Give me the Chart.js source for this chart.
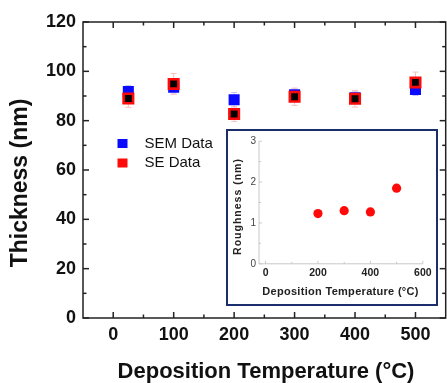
<!DOCTYPE html>
<html><head><meta charset="utf-8">
<script src="https://cdn.jsdelivr.net/npm/chart.js@4/dist/chart.umd.min.js"></script>
<style>
html,body{margin:0;padding:0;overflow:hidden;background:#fff;width:447px;height:383px}
#main{position:absolute;left:0;top:0}
#insetBox{position:absolute;left:226px;top:129px;width:212px;height:177px;box-sizing:border-box;border:2.5px solid #1b2e6c;background:#fff}
#inset{position:absolute;left:0;top:0}
</style></head><body>
<canvas id="main" width="455" height="383"></canvas>
<div id="insetBox"><canvas id="inset" width="207" height="172"></canvas></div>
<script>
// ---- data ----
const temps = [25, 100, 200, 300, 400, 500];
const semThickness = [91.8, 93.6, 88.5, 90.5, 89.3, 92.6];
const seThickness = [89.0, 94.9, 82.7, 89.7, 88.9, 95.5];
const semErr = [2.4, 2.4, 2.9, 2.4, 2.4, 2.4];
const seErr = [3.6, 4.2, 3.0, 3.5, 3.4, 4.2];
const roughTemps = [200, 300, 400, 500];
const roughness = [1.23, 1.30, 1.27, 1.85];
const tempTicks = [0, 100, 200, 300, 400, 500];
const tempMinorTicks = [50, 150, 250, 350, 450];
const thickTicks = [0, 20, 40, 60, 80, 100, 120];
const thickMinorTicks = [10, 30, 50, 70, 90, 110];
const insetTempTicks = [0, 200, 400, 600];
const insetTempMinor = [100, 300, 500];
const roughTicks = [0, 1, 2, 3];
const roughMinor = [0.5, 1.5, 2.5];
const seriesNames = ['SEM Data', 'SE Data'];
const mainXTitle = 'Deposition Temperature (°C)';
const mainYTitle = 'Thickness (nm)';
const insetXTitle = 'Deposition Temperature (°C)';
const insetYTitle = 'Roughness (nm)';

const FONT = '"Liberation Sans", Arial, sans-serif';
Chart.defaults.font.family = FONT;
Chart.defaults.devicePixelRatio = 1;

function line(ctx, x1, y1, x2, y2) { ctx.beginPath(); ctx.moveTo(x1, y1); ctx.lineTo(x2, y2); ctx.stroke(); }

const mainPlugin = {
  id: 'mainPlugin',
  beforeDatasetsDraw(chart) {
    const { ctx, scales: { x, y } } = chart;
    ctx.save();
    ctx.lineWidth = 1;
    const drawErr = (vals, errs, color) => {
      ctx.strokeStyle = color;
      temps.forEach((t, i) => {
        const px = x.getPixelForValue(t);
        const top = y.getPixelForValue(vals[i] + errs[i]);
        const bot = y.getPixelForValue(vals[i] - errs[i]);
        line(ctx, px, top, px, bot);
        line(ctx, px - 3, top, px + 3, top);
        line(ctx, px - 3, bot, px + 3, bot);
      });
    };
    drawErr(semThickness, semErr, '#c4c4f6');
    drawErr(seThickness, seErr, '#f6c0c0');
    ctx.restore();
  },
  afterDraw(chart) {
    const { ctx, chartArea: a, scales: { x, y } } = chart;
    ctx.save();
    ctx.strokeStyle = '#222';
    ctx.lineWidth = 1.5;
    ctx.strokeRect(a.left, a.top, a.right - a.left, a.bottom - a.top);
    tempTicks.forEach(v => { const p = x.getPixelForValue(v); line(ctx, p, a.bottom, p, a.bottom - 6); line(ctx, p, a.top, p, a.top + 6); });
    tempMinorTicks.forEach(v => { const p = x.getPixelForValue(v); line(ctx, p, a.bottom, p, a.bottom - 3.5); line(ctx, p, a.top, p, a.top + 3.5); });
    thickTicks.forEach(v => { const p = y.getPixelForValue(v); line(ctx, a.left, p, a.left + 6, p); line(ctx, a.right, p, a.right - 6, p); });
    thickMinorTicks.forEach(v => { const p = y.getPixelForValue(v); line(ctx, a.left, p, a.left + 3.5, p); line(ctx, a.right, p, a.right - 3.5, p); });
    // legend
    const ds = chart.data.datasets;
    const legColors = [ds[0].backgroundColor, ds[1].borderColor];
    const legY = [143.5, 163];
    ctx.font = '15px ' + FONT;
    ctx.textBaseline = 'middle';
    ctx.fillStyle = '#111';
    legColors.forEach((c, i) => {
      ctx.fillStyle = c;
      ctx.fillRect(117.5, legY[i] - 4.5, 10, 9);
      ctx.fillStyle = '#111';
      ctx.fillText(seriesNames[i], 144.5, legY[i]);
    });
    // titles
    ctx.fillStyle = '#111';
    ctx.font = 'bold 22px ' + FONT;
    ctx.textAlign = 'center';
    ctx.textBaseline = 'middle';
    ctx.fillText(mainXTitle, 266, 372);
    ctx.translate(21, 183);
    ctx.rotate(-Math.PI / 2);
    ctx.font = 'bold 23px ' + FONT;
    ctx.fillText(mainYTitle, 0, 0);
    ctx.restore();
  }
};

new Chart(document.getElementById('main'), {
  type: 'scatter',
  data: {
    datasets: [
      { label: seriesNames[0], data: temps.map((t, i) => ({ x: t, y: semThickness[i] })),
        pointStyle: 'rect', radius: 7.8, backgroundColor: '#0a0aff', borderWidth: 0, order: 2 },
      { label: seriesNames[1], data: temps.map((t, i) => ({ x: t, y: seThickness[i] })),
        pointStyle: 'rect', radius: 6.7, backgroundColor: '#000000', borderColor: '#ff0a0a', borderWidth: 2.6, order: 1 }
    ]
  },
  options: {
    responsive: false, animation: false, events: [],
    layout: { padding: { top: 22, right: 6, left: 0, bottom: 0 } },
    plugins: { legend: { display: false }, tooltip: { enabled: false } },
    elements: { point: { hoverRadius: 0 } },
    scales: {
      x: {
        type: 'linear', min: -50, max: 550,
        afterBuildTicks: s => { s.ticks = tempTicks.map(v => ({ value: v })); },
        afterFit: s => { s.height = 65; },
        grid: { display: false, drawTicks: false, tickLength: 0 },
        border: { display: false },
        ticks: { font: { size: 18, weight: 'bold' }, color: '#111', padding: 6, maxRotation: 0, autoSkip: false }
      },
      y: {
        type: 'linear', min: 0, max: 120,
        afterBuildTicks: s => { s.ticks = thickTicks.map(v => ({ value: v })); },
        afterFit: s => { s.width = 83; },
        grid: { display: false, drawTicks: false, tickLength: 0 },
        border: { display: false },
        ticks: { font: { size: 18, weight: 'bold' }, color: '#111', padding: 7, autoSkip: false }
      }
    }
  },
  plugins: [mainPlugin]
});

const insetPlugin = {
  id: 'insetPlugin',
  beforeDatasetsDraw(chart) {
    const { ctx, chartArea: a, scales: { x, y } } = chart;
    ctx.save();
    ctx.strokeStyle = '#c8c8c8';
    ctx.lineWidth = 1;
    line(ctx, a.left, a.top, a.left, a.bottom);
    line(ctx, a.left, a.bottom, a.right, a.bottom);
    insetTempTicks.forEach(v => { const p = x.getPixelForValue(v); line(ctx, p, a.bottom, p, a.bottom - 3); });
    insetTempMinor.forEach(v => { const p = x.getPixelForValue(v); line(ctx, p, a.bottom, p, a.bottom - 2); });
    roughTicks.forEach(v => { const p = y.getPixelForValue(v); line(ctx, a.left, p, a.left + 3, p); });
    roughMinor.forEach(v => { const p = y.getPixelForValue(v); line(ctx, a.left, p, a.left + 2, p); });
    ctx.restore();
  },
  afterDraw(chart) {
    const { ctx } = chart;
    ctx.save();
    ctx.fillStyle = '#222';
    ctx.textAlign = 'center';
    ctx.textBaseline = 'middle';
    ctx.font = 'bold 11px ' + FONT;
    try { ctx.letterSpacing = '0.3px'; } catch (e) {}
    ctx.fillText(insetXTitle, 112.5, 160.5);
    ctx.translate(10.3, 75.5);
    ctx.rotate(-Math.PI / 2);
    ctx.font = 'bold 10.5px ' + FONT;
    try { ctx.letterSpacing = '1px'; } catch (e) {}
    ctx.fillText(insetYTitle, 0, 0);
    ctx.restore();
  }
};

new Chart(document.getElementById('inset'), {
  type: 'scatter',
  data: {
    datasets: [
      { label: 'Roughness', data: roughTemps.map((t, i) => ({ x: t, y: roughness[i] })),
        pointStyle: 'circle', radius: 4.6, backgroundColor: '#ff0a0a', borderWidth: 0 }
    ]
  },
  options: {
    responsive: false, animation: false, events: [],
    layout: { padding: { top: 10.2, right: 12.2, left: 0, bottom: 0 } },
    plugins: { legend: { display: false }, tooltip: { enabled: false } },
    scales: {
      x: {
        type: 'linear', min: -25, max: 600,
        afterBuildTicks: s => { s.ticks = insetTempTicks.map(v => ({ value: v })); },
        afterFit: s => { s.height = 39.2; },
        grid: { display: false, drawTicks: false, tickLength: 0 },
        border: { display: false },
        ticks: { font: { size: 10.5, weight: 'bold' }, color: '#222', padding: 3, maxRotation: 0, autoSkip: false }
      },
      y: {
        type: 'linear', min: 0, max: 3,
        afterBuildTicks: s => { s.ticks = roughTicks.map(v => ({ value: v })); },
        afterFit: s => { s.width = 31; },
        grid: { display: false, drawTicks: false, tickLength: 0 },
        border: { display: false },
        ticks: { font: { size: 10 }, color: '#444', padding: 3, autoSkip: false }
      }
    }
  },
  plugins: [insetPlugin]
});
</script>
</body></html>
